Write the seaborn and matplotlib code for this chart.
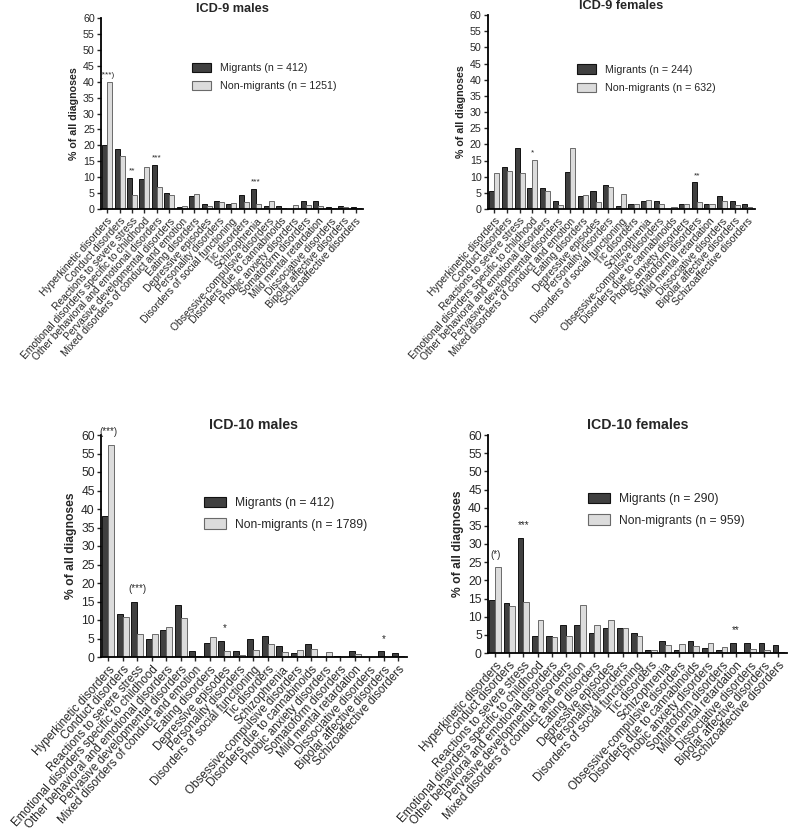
import pandas as pd
import seaborn as sns
import matplotlib.pyplot as plt

categories = [
    'Hyperkinetic disorders',
    'Conduct disorders',
    'Reactions to severe stress',
    'Emotional disorders specific to childhood',
    'Other behavioral and emotional disorders',
    'Pervasive developmental disorders',
    'Mixed disorders of conduct and emotion',
    'Eating disorders',
    'Depressive episodes',
    'Personality disorders',
    'Disorders of social functioning',
    'Tic disorders',
    'Schizophrenia',
    'Obsessive-compulsive disorders',
    'Disorders due to cannabinoids',
    'Phobic anxiety disorders',
    'Somatoform disorders',
    'Mild mental retardation',
    'Dissociative disorders',
    'Bipolar affective disorders',
    'Schizoaffective disorders',
]

# % of all diagnoses
icd9_m_mig = [20, 19, 9.7, 9.3, 13.7, 5, 0.5, 4, 1.5, 2.4, 1.5, 4.4, 6.3, 1, 1, 0, 2.4, 2.4, 0.5, 1, 0.5]
icd9_m_non = [39.8, 16.8, 4.5, 13.3, 6.9, 4.4, 1, 4.8, 1, 2.3, 1.9, 2.1, 1.6, 2.5, 0.3, 1.3, 1.3, 1, 0.4, 0.7, 0.3]
icd9_f_mig = [5.7, 13.1, 18.9, 6.6, 6.6, 2.5, 11.5, 4.1, 5.7, 7.4, 0.8, 1.6, 2.5, 2.5, 0, 1.6, 8.2, 1.6, 4.1, 2.5, 1.6]
icd9_f_non = [11.2, 11.7, 11.2, 15.1, 5.6, 1.2, 19, 4.4, 2.1, 6.8, 4.7, 1.4, 2.8, 1.6, 0.6, 1.4, 2.2, 1.7, 2.5, 1.1, 0.5]
icd10_m_mig = [38, 11.7, 15, 4.8, 7.3, 14.1, 1.5, 3.9, 4.4, 1.5, 4.9, 5.8, 2.9, 1, 3.4, 0, 0.2, 1.5, 0, 1.5, 1]
icd10_m_non = [57.3, 10.8, 6.2, 6.1, 8.2, 10.6, 0.4, 5.4, 1.6, 0.6, 2, 3.6, 1.3, 1.8, 2.2, 1.3, 0, 0.7, 0, 0.1, 0.3]
icd10_f_mig = [14.5, 13.8, 31.7, 4.8, 4.8, 7.6, 7.6, 5.5, 6.9, 6.9, 5.5, 0.7, 3.4, 0.7, 3.4, 1.4, 0.7, 2.8, 2.8, 2.8, 2.1]
icd10_f_non = [23.6, 12.9, 14, 9.1, 4.4, 4.6, 13.3, 7.6, 9.2, 6.8, 4.6, 0.9, 2.1, 2.6, 2, 2.8, 1.6, 0.2, 1, 0.7, 0.4]

icd9_m_sig = {0: '(***)', 2: '**', 4: '***', 12: '***'}
icd9_f_sig = {3: '*', 16: '**'}
icd10_m_sig = {0: '(***)', 2: '(***)', 8: '*', 19: '*'}
icd10_f_sig = {0: '(*)', 2: '***', 17: '**'}

sns.set_style('ticks')
plt.rcParams['font.family'] = ['Liberation Sans', 'DejaVu Sans']

W, H = 789, 836
fig = plt.figure(figsize=(W / 100, H / 100), dpi=100)


def px_axes(left, top, right, bottom):
    return fig.add_axes([left / W, 1 - bottom / H, (right - left) / W, (bottom - top) / H])


panels = [
    dict(title='ICD-9 males', mig=icd9_m_mig, non=icd9_m_non, n=(412, 1251), sig=icd9_m_sig,
         box=(101, 18, 363, 209), fs=7.4, leg=(0.347, 0.765)),
    dict(title='ICD-9 females', mig=icd9_f_mig, non=icd9_f_non, n=(244, 632), sig=icd9_f_sig,
         box=(488, 15, 755, 209), fs=7.4, leg=(0.333, 0.745)),
    dict(title='ICD-10 males', mig=icd10_m_mig, non=icd10_m_non, n=(412, 1789), sig=icd10_m_sig,
         box=(101, 435, 407, 657), fs=8.4, leg=(0.336, 0.722)),
    dict(title='ICD-10 females', mig=icd10_f_mig, non=icd10_f_non, n=(290, 959), sig=icd10_f_sig,
         box=(488, 435, 787, 653), fs=8.4, leg=(0.334, 0.735)),
]

edge_colors = ['#111111', '#6a6a6a']

for p in panels:
    ax = px_axes(*p['box'])
    fs = p['fs']
    small = fs < 8
    lab_m = f'Migrants (n = {p["n"][0]})'
    lab_n = f'Non-migrants (n = {p["n"][1]})'
    df = pd.DataFrame({
        'category': categories * 2,
        'group': [lab_m] * len(categories) + [lab_n] * len(categories),
        'value': p['mig'] + p['non'],
    })
    sns.barplot(data=df, x='category', y='value', hue='group', hue_order=[lab_m, lab_n],
                palette=['#404040', '#dcdcdc'], saturation=1, width=0.8, ax=ax)
    for cont, ec in zip(ax.containers, edge_colors):
        for bar in cont:
            bar.set_edgecolor(ec)
            bar.set_linewidth(0.7)

    ax.set_xlim(-0.5, 20.6)
    ax.set_ylim(0, 60)
    ax.set_yticks(range(0, 61, 5))
    ax.set_xlabel('')
    ax.set_ylabel('% of all diagnoses', fontsize=fs + 0.3, fontweight='bold', labelpad=3)
    ax.set_title(p['title'], fontsize=fs + 1.8, fontweight='bold', pad=4)
    ax.set_xticks(range(len(categories)))
    ax.set_xticklabels(categories, rotation=48, ha='right', rotation_mode='anchor', fontsize=fs)
    ax.tick_params(axis='y', labelsize=fs + 0.3, length=3, width=1, pad=1.5)
    ax.tick_params(axis='x', length=3, width=1, pad=2)
    sns.despine(ax=ax)
    for side in ['left', 'bottom']:
        ax.spines[side].set_linewidth(1.3)
        ax.spines[side].set_color('black')

    for i, txt in p['sig'].items():
        top = max(p['mig'][i], p['non'][i])
        ax.annotate(txt, (i, top), xytext=(0, 4 if small else 7), textcoords='offset points',
                    ha='center', va='baseline', fontsize=fs - 1.5, annotation_clip=False)

    handles, labels = ax.get_legend_handles_labels()
    leg = ax.legend(handles, labels, loc='upper left', bbox_to_anchor=p['leg'], frameon=False,
                    fontsize=fs + 0.3, handlelength=1.8, handleheight=0.95, handletextpad=0.8,
                    labelspacing=0.75, borderpad=0, borderaxespad=0)
    for h, ec in zip(leg.legend_handles, edge_colors):
        h.set_edgecolor(ec)
        h.set_linewidth(0.8)

fig.savefig('out.png', dpi=100)
